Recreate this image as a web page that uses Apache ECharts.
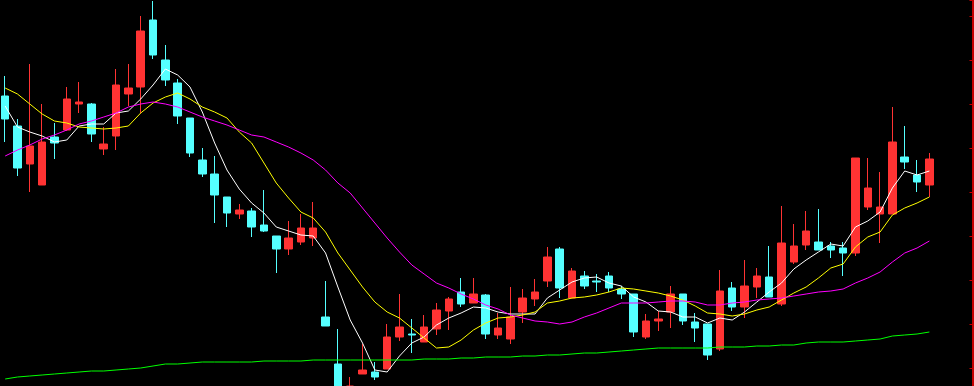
<!DOCTYPE html>
<html>
<head>
<meta charset="utf-8">
<style>html,body{margin:0;padding:0;background:#000;}#c{width:974px;height:386px;}</style>
<script src="https://cdn.jsdelivr.net/npm/echarts@6/dist/echarts.min.js"></script>
</head>
<body>
<div id="c"></div>
<script>
var SLOTS = 79;
var categories = Array.from({length: SLOTS}, function (_, i) { return 'D' + (i + 1); });

var candleOpen = [4.04,3.74,3.36,3.15,3.63,3.70,3.96,3.96,3.51,3.64,
  4.06,4.13,4.80,4.40,4.17,3.82,3.40,3.26,3.03,2.86,
  2.89,2.75,2.64,2.51,2.58,2.62,1.83,1.36,1.05,1.26,
  1.28,1.31,1.63,1.66,1.58,1.71,1.89,2.08,1.97,2.05,
  1.65,1.61,1.88,2.01,2.19,2.51,2.02,2.24,2.19,2.24,
  2.11,2.06,1.63,1.79,1.88,2.06,1.78,1.76,1.51,2.12,
  1.93,2.13,2.23,1.96,2.38,2.55,2.58,2.54,2.52,2.47,
  2.93,2.86,2.86,3.43,3.25,3.15];
var candleClose = [3.81,3.32,3.54,3.58,3.57,4.01,3.98,3.66,3.56,4.15,
  4.12,4.69,4.45,4.20,3.84,3.47,3.26,3.05,2.87,2.90,
  2.73,2.69,2.51,2.62,2.72,2.72,1.74,1.10,1.14,1.30,
  1.23,1.63,1.73,1.65,1.73,1.90,2.01,1.96,2.06,1.66,
  1.72,1.83,2.02,2.08,2.43,2.12,2.29,2.14,2.18,2.12,
  2.06,1.68,1.79,1.81,2.06,1.79,1.72,1.45,2.09,1.93,
  2.14,2.24,2.03,2.57,2.54,2.69,2.50,2.50,2.47,3.42,
  3.12,2.93,3.58,3.38,3.18,3.41];
var candleLow = [3.58,3.24,3.08,3.15,3.41,3.69,3.87,3.58,3.45,3.50,
  3.94,3.87,4.41,4.14,3.76,3.43,3.23,2.77,2.73,2.81,
  2.63,2.68,2.27,2.45,2.55,2.54,1.74,1.04,1.00,1.26,
  1.20,1.31,1.59,1.47,1.58,1.65,1.70,1.93,1.97,1.61,
  1.61,1.56,1.77,1.94,2.13,2.02,2.02,2.11,2.08,2.08,
  2.01,1.63,1.61,1.69,1.72,1.75,1.58,1.40,1.49,1.89,
  1.82,2.02,2.03,1.94,2.36,2.50,2.50,2.42,2.24,2.44,
  2.90,2.57,2.86,3.31,3.08,3.03];
var candleHigh = [4.24,3.81,4.36,3.96,3.77,4.13,4.18,3.97,3.73,4.31,
  4.36,4.84,4.99,4.55,4.21,3.82,3.52,3.44,3.03,2.96,
  2.92,3.10,2.64,2.79,2.86,2.98,2.19,1.71,1.23,1.56,
  1.38,1.76,2.06,1.81,1.85,1.97,2.03,2.22,2.22,2.06,
  1.87,2.13,2.11,2.21,2.53,2.53,2.32,2.29,2.26,2.28,
  2.14,2.06,1.86,1.89,2.14,2.06,1.87,1.76,2.30,2.18,
  2.40,2.32,2.54,2.94,2.76,2.89,2.91,2.58,2.58,3.42,
  3.42,3.28,3.93,3.74,3.40,3.47];

var ma5 = [3.94,3.73,3.68,3.64,3.58,3.60,3.74,3.76,3.76,3.87,
  3.89,4.01,4.15,4.31,4.25,4.13,3.88,3.57,3.30,3.11,
  2.97,2.87,2.73,2.69,2.65,2.64,2.47,2.13,1.80,1.57,
  1.30,1.28,1.44,1.57,1.63,1.75,1.82,1.87,1.93,1.92,
  1.88,1.86,1.86,1.86,2.02,2.10,2.18,2.22,2.23,2.17,
  2.14,2.03,1.98,1.89,1.88,1.83,1.83,1.77,1.82,1.80,
  1.88,1.98,2.08,2.17,2.31,2.40,2.48,2.56,2.54,2.73,
  2.79,2.88,3.12,3.29,3.25,3.29];
var ma10 = [4.12,4.06,3.96,3.86,3.79,3.77,3.73,3.72,3.71,3.72,
  3.74,3.87,3.97,4.03,4.07,4.01,3.93,3.88,3.82,3.68,
  3.57,3.37,3.17,3.02,2.88,2.82,2.68,2.47,2.30,2.13,
  1.98,1.88,1.82,1.72,1.62,1.52,1.53,1.60,1.70,1.77,
  1.82,1.83,1.85,1.88,1.97,1.99,2.02,2.03,2.05,2.08,
  2.12,2.11,2.09,2.07,2.04,2.00,1.94,1.87,1.86,1.84,
  1.86,1.90,1.93,2.00,2.07,2.13,2.22,2.32,2.36,2.53,
  2.63,2.68,2.85,2.92,2.97,3.03];
var ma20 = [3.44,3.50,3.55,3.61,3.65,3.70,3.76,3.79,3.83,3.87,
  3.93,3.96,3.98,3.96,3.93,3.88,3.83,3.79,3.75,3.70,
  3.65,3.63,3.58,3.53,3.47,3.40,3.30,3.17,3.07,2.92,
  2.77,2.62,2.48,2.35,2.26,2.17,2.12,2.06,2.01,1.95,
  1.91,1.85,1.82,1.79,1.78,1.76,1.78,1.83,1.87,1.92,
  1.97,1.97,1.97,1.98,1.99,1.99,1.98,1.95,1.95,1.97,
  1.98,2.00,2.01,2.02,2.04,2.06,2.08,2.09,2.11,2.17,
  2.22,2.28,2.38,2.47,2.52,2.59];
var ma60 = [1.21,1.23,1.24,1.25,1.26,1.27,1.28,1.29,1.29,1.30,
  1.31,1.32,1.34,1.36,1.36,1.37,1.38,1.38,1.38,1.38,
  1.38,1.39,1.39,1.39,1.39,1.40,1.40,1.40,1.40,1.40,
  1.40,1.40,1.40,1.40,1.41,1.41,1.41,1.42,1.42,1.43,
  1.43,1.43,1.44,1.44,1.45,1.45,1.46,1.47,1.47,1.48,
  1.49,1.50,1.51,1.52,1.52,1.52,1.52,1.52,1.53,1.53,
  1.53,1.54,1.54,1.55,1.55,1.57,1.58,1.58,1.58,1.59,
  1.60,1.61,1.64,1.65,1.66,1.68];

var ohlc = candleOpen.map(function (o, i) {
  return [o, candleClose[i], candleLow[i], candleHigh[i]];
});

function maSeries(name, data, color) {
  return {
    name: name, type: 'line', data: data, symbol: 'none', smooth: false,
    lineStyle: {color: color, width: 1}, silent: true, z: 3
  };
}

var chart = echarts.init(document.getElementById('c'), null, {renderer: 'canvas'});
chart.setOption({
  backgroundColor: '#000000',
  animation: false,
  grid: {left: -1, top: 0, width: 973.5, height: 412, containLabel: false, outerBoundsMode: 'none'},
  xAxis: {
    type: 'category', data: categories, boundaryGap: true, show: false
  },
  yAxis: {
    type: 'value', position: 'right', min: 0.88, max: 5.00, interval: 0.44,
    axisLine: {show: true, lineStyle: {color: '#c40000', width: 2}},
    axisTick: {show: true, inside: true, length: 3, lineStyle: {color: '#c40000', width: 1}},
    axisLabel: {show: false},
    splitLine: {show: false}
  },
  series: [
    {
      type: 'candlestick', data: ohlc, barWidth: 8, z: 2,
      itemStyle: {
        color: '#ff3333', color0: '#55ffff',
        borderColor: '#ff3333', borderColor0: '#55ffff', borderWidth: 1
      }
    },
    maSeries('MA5', ma5, '#ffffff'),
    maSeries('MA10', ma10, '#ffff00'),
    maSeries('MA20', ma20, '#ff00ff'),
    maSeries('MA60', ma60, '#00ff00')
  ]
});
</script>
</body>
</html>
